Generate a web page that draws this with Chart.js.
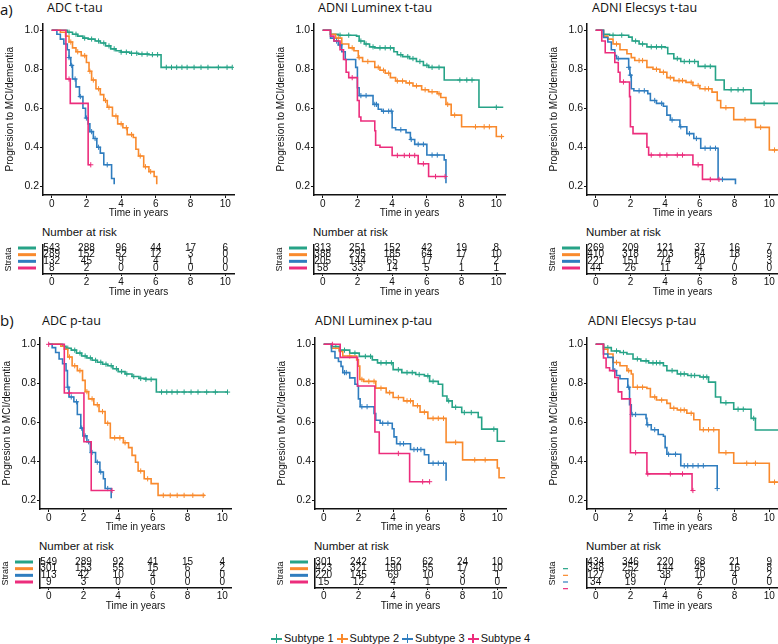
<!DOCTYPE html>
<html>
<head>
<meta charset="utf-8">
<script src="https://cdn.jsdelivr.net/npm/chart.js@4.4.1/dist/chart.umd.min.js"></script>
<style>
  html, body { margin: 0; padding: 0; background: #fff; }
  body { width: 778px; height: 644px; position: relative; overflow: hidden; font-family: "Liberation Sans", Arial, sans-serif; color: #111; }
  .box { position: absolute; }
  .tag { position: absolute; font-family: "Open Sans", sans-serif; font-size: 15px; line-height: 18px; }
  .ttl { position: absolute; font-family: "Open Sans", sans-serif; font-size: 12.5px; line-height: 15px; white-space: nowrap; }
  .nar { position: absolute; font-size: 11.5px; line-height: 14px; white-space: nowrap; }
  #legend { position: absolute; left: 271px; top: 631px; display: flex; gap: 3px; font-size: 11px; line-height: 14px; white-space: nowrap; }
  #legend .key { display: inline-block; width: 11px; height: 9px; position: relative; margin-right: 2px; vertical-align: -1px; }
  #legend .key::before { content: ""; position: absolute; left: 0; right: 0; top: 4px; height: 1.5px; background: var(--c); }
  #legend .key::after { content: ""; position: absolute; left: 4.75px; top: 0; width: 1.5px; height: 9px; background: var(--c); }
</style>
</head>
<body>
<div class="tag" style="left:0px;top:0px;">a)</div>
<div class="tag" style="left:0px;top:311px;">b)</div>
<div id="legend"></div>
<script>
const years = [0, 2, 4, 6, 8, 10];
const subtypes = ["Subtype 1", "Subtype 2", "Subtype 3", "Subtype 4"];
const colors = ["#26a387", "#f98a2d", "#2f7dbf", "#ec2d7c"];

// a) ADC t-tau  (t = event times, s = survival, c = censor times)
const adcT_t1 = [0, 0.9, 1.2, 1.5, 1.8, 2.1, 2.5, 2.8, 3.1, 3.4, 3.7, 4.0, 4.5, 5.0, 5.6, 6.3, 10.4];
const adcT_s1 = [1, 0.99, 0.98, 0.97, 0.96, 0.955, 0.945, 0.935, 0.92, 0.905, 0.895, 0.888, 0.882, 0.878, 0.875, 0.81, 0.81];
const adcT_c1 = [1.0, 1.4, 1.9, 2.3, 2.7, 3.0, 3.3, 3.6, 4.0, 4.3, 4.6, 4.9, 5.2, 5.5, 5.8, 6.1, 6.6, 6.9, 7.2, 7.5, 7.8, 8.2, 8.6, 9.0, 9.6, 10.1, 10.4];
const adcT_t2 = [0, 0.5, 0.8, 1.0, 1.2, 1.4, 1.7, 2.0, 2.15, 2.3, 2.55, 2.8, 3.0, 3.2, 3.5, 3.8, 4.1, 4.35, 4.7, 4.85, 5.0, 5.3, 5.6, 5.9, 6.05];
const adcT_s2 = [1, 0.99, 0.97, 0.94, 0.91, 0.89, 0.87, 0.835, 0.79, 0.745, 0.70, 0.67, 0.64, 0.605, 0.56, 0.52, 0.50, 0.465, 0.45, 0.39, 0.355, 0.30, 0.275, 0.25, 0.21];
const adcT_c2 = [1.1, 1.5, 1.9, 2.2, 2.4, 2.7, 3.1, 3.3, 3.7, 4.0, 4.3, 4.6, 5.1, 5.4, 5.7];
const adcT_t3 = [0, 0.3, 0.5, 0.7, 0.9, 1.0, 1.1, 1.2, 1.4, 1.6, 1.8, 1.95, 2.1, 2.2, 2.4, 2.6, 2.8, 3.0, 3.45, 3.6];
const adcT_s3 = [1, 0.98, 0.955, 0.93, 0.9, 0.86, 0.82, 0.75, 0.71, 0.66, 0.6, 0.55, 0.52, 0.48, 0.445, 0.40, 0.37, 0.31, 0.24, 0.21];
const adcT_c3 = [1.0, 1.15, 1.35, 1.65, 2.0, 2.3, 2.5, 2.7, 3.2];
const adcT_t4 = [0, 0.82, 1.07, 2.1, 2.25];
const adcT_s4 = [1, 0.75, 0.625, 0.31, 0.31];
const adcT_c4 = [1.0, 2.25];
const adcT_risk = [[543, 288, 96, 44, 17, 6], [289, 152, 52, 12, 3, 0], [132, 45, 9, 4, 1, 0], [8, 2, 0, 0, 0, 0]];

// ADNI Luminex t-tau
const lumT_t1 = [0, 0.45, 0.9, 1.95, 2.1, 2.4, 2.7, 3.0, 4.1, 4.3, 4.6, 5.0, 5.4, 5.8, 6.1, 7.0, 9.0, 10.4];
const lumT_s1 = [1, 0.98, 0.975, 0.97, 0.945, 0.93, 0.915, 0.91, 0.89, 0.875, 0.865, 0.855, 0.84, 0.82, 0.81, 0.745, 0.605, 0.605];
const lumT_c1 = [1.0, 1.5, 2.2, 2.5, 2.9, 3.3, 3.6, 3.9, 4.5, 4.9, 5.2, 5.6, 6.0, 6.3, 6.7, 7.9, 8.3, 8.6, 10.0];
const lumT_t2 = [0, 0.45, 0.75, 1.1, 1.5, 1.8, 2.05, 2.3, 3.0, 3.3, 3.6, 3.9, 4.2, 4.8, 5.2, 5.7, 6.1, 6.6, 6.8, 7.1, 7.4, 8.0, 10.0, 10.4];
const lumT_s2 = [1, 0.98, 0.96, 0.93, 0.91, 0.895, 0.86, 0.84, 0.81, 0.795, 0.78, 0.757, 0.74, 0.73, 0.715, 0.695, 0.685, 0.675, 0.655, 0.62, 0.565, 0.505, 0.455, 0.455];
const lumT_c2 = [0.9, 1.7, 2.1, 2.6, 3.2, 3.5, 3.8, 4.3, 4.6, 5.0, 5.4, 5.9, 6.3, 6.7, 7.2, 7.6, 8.8, 9.3, 9.6, 10.3];
const lumT_t3 = [0, 0.45, 0.65, 0.9, 1.1, 1.3, 1.9, 2.0, 2.1, 2.9, 3.2, 3.4, 4.0, 4.2, 4.8, 5.05, 5.3, 6.0, 7.0, 7.1];
const lumT_s3 = [1, 0.96, 0.945, 0.925, 0.89, 0.85, 0.81, 0.705, 0.665, 0.62, 0.595, 0.585, 0.5, 0.49, 0.475, 0.44, 0.415, 0.36, 0.335, 0.215];
const lumT_c3 = [0.8, 1.0, 2.2, 2.5, 3.0, 3.1, 3.5, 3.8, 3.95, 4.5, 5.1, 5.5, 5.8, 6.3, 6.6];
const lumT_t4 = [0, 0.45, 0.65, 1.0, 1.2, 1.35, 1.5, 2.0, 2.1, 2.2, 3.0, 3.05, 3.3, 4.0, 5.5, 6.1, 7.05];
const lumT_s4 = [1, 0.97, 0.945, 0.9, 0.85, 0.785, 0.757, 0.64, 0.555, 0.535, 0.485, 0.41, 0.40, 0.358, 0.315, 0.25, 0.25];
const lumT_c4 = [1.7, 4.3, 4.7, 5.0, 5.3, 5.8, 6.5, 7.05];
const lumT_risk = [[313, 251, 152, 42, 19, 8], [388, 295, 185, 64, 17, 10], [205, 144, 65, 17, 7, 2], [58, 33, 14, 5, 1, 1]];

// ADNI Elecsys t-tau
const elcT_t1 = [0, 0.45, 0.8, 1.9, 2.1, 2.5, 2.95, 4.0, 4.15, 4.5, 4.9, 5.9, 6.9, 7.4, 8.95, 10.5];
const elcT_s1 = [1, 0.98, 0.975, 0.965, 0.945, 0.93, 0.915, 0.912, 0.88, 0.855, 0.84, 0.815, 0.745, 0.695, 0.625, 0.625];
const elcT_c1 = [1.0, 1.5, 2.3, 2.7, 3.2, 3.5, 3.8, 4.7, 5.1, 5.4, 5.7, 6.3, 6.6, 7.8, 8.2, 8.5, 9.7];
const elcT_t2 = [0, 0.45, 0.7, 1.0, 1.4, 1.8, 2.05, 2.25, 2.95, 3.3, 3.7, 4.1, 4.5, 5.2, 5.6, 6.0, 6.7, 7.0, 7.2, 7.95, 9.2, 10.0, 10.5];
const elcT_s2 = [1, 0.97, 0.955, 0.93, 0.9, 0.88, 0.86, 0.845, 0.81, 0.8, 0.785, 0.757, 0.742, 0.733, 0.717, 0.70, 0.683, 0.64, 0.603, 0.542, 0.502, 0.386, 0.386];
const elcT_c2 = [1.2, 2.5, 2.7, 3.5, 3.9, 4.3, 4.8, 5.0, 5.5, 5.9, 6.3, 6.5, 7.5, 8.6, 9.5, 10.3];
const elcT_t3 = [0, 0.45, 0.7, 0.9, 1.1, 1.2, 1.9, 1.97, 2.05, 2.2, 3.0, 3.15, 3.5, 3.9, 4.1, 4.3, 4.85, 5.25, 5.65, 6.05, 7.05, 8.05];
const elcT_s3 = [1, 0.963, 0.94, 0.9, 0.87, 0.855, 0.81, 0.77, 0.70, 0.69, 0.675, 0.64, 0.625, 0.61, 0.565, 0.54, 0.505, 0.47, 0.445, 0.395, 0.235, 0.21];
const elcT_c3 = [1.3, 1.9, 2.0, 2.5, 2.8, 3.4, 3.8, 4.4, 4.9, 5.4, 5.8, 6.3, 6.6, 6.9, 7.3];
const elcT_t4 = [0, 0.35, 0.55, 1.1, 1.3, 1.4, 1.95, 2.0, 2.15, 2.95, 3.05, 5.6, 6.15, 7.1];
const elcT_s4 = [1, 0.945, 0.885, 0.835, 0.785, 0.735, 0.66, 0.505, 0.47, 0.40, 0.36, 0.31, 0.235, 0.235];
const elcT_c4 = [1.6, 3.2, 3.7, 4.1, 4.7, 5.0, 5.9, 6.6, 7.1];
const elcT_risk = [[269, 209, 121, 37, 16, 7], [410, 318, 203, 64, 18, 9], [221, 151, 74, 20, 7, 3], [44, 26, 11, 4, 0, 0]];

// b) ADC p-tau
const adcP_t1 = [0, 0.8, 1.0, 1.3, 1.6, 1.9, 2.2, 2.5, 2.8, 3.1, 3.4, 3.7, 4.0, 4.4, 4.8, 5.2, 5.6, 6.2, 10.3];
const adcP_s1 = [1, 0.99, 0.98, 0.97, 0.955, 0.94, 0.93, 0.918, 0.908, 0.898, 0.89, 0.875, 0.86, 0.848, 0.835, 0.825, 0.82, 0.755, 0.755];
const adcP_c1 = [1.1, 1.5, 1.8, 2.1, 2.4, 2.7, 3.0, 3.3, 3.6, 3.9, 4.2, 4.5, 4.9, 5.3, 5.6, 5.9, 6.5, 6.8, 7.1, 7.4, 7.8, 8.2, 8.6, 9.1, 9.6, 10.3];
const adcP_t2 = [0, 0.7, 0.9, 1.1, 1.35, 1.65, 1.95, 2.1, 2.3, 2.6, 2.9, 3.25, 3.55, 4.3, 4.6, 4.8, 5.0, 5.15, 5.5, 5.9, 6.3, 9.0];
const adcP_s2 = [1, 0.99, 0.975, 0.935, 0.89, 0.865, 0.815, 0.757, 0.72, 0.69, 0.655, 0.595, 0.52, 0.495, 0.47, 0.43, 0.395, 0.35, 0.31, 0.285, 0.225, 0.225];
const adcP_c2 = [1.2, 1.5, 1.8, 2.2, 2.5, 2.8, 3.1, 3.4, 3.8, 4.1, 4.4, 5.3, 5.7, 6.6, 7.0, 7.4, 7.8, 8.3, 8.9];
const adcP_t3 = [0, 0.2, 0.4, 0.6, 0.8, 1.0, 1.08, 1.17, 1.45, 1.65, 1.85, 1.97, 2.2, 2.4, 2.7, 2.95, 3.15, 3.25, 3.6];
const adcP_s3 = [1, 0.983, 0.958, 0.925, 0.9, 0.865, 0.78, 0.73, 0.705, 0.64, 0.57, 0.53, 0.5, 0.445, 0.395, 0.345, 0.31, 0.26, 0.21];
const adcP_c3 = [1.1, 1.3, 1.6, 1.9, 2.1, 2.3, 2.5, 2.8, 3.0, 3.4];
const adcP_t4 = [0, 0.9, 2.03, 2.45, 3.65];
const adcP_s4 = [1, 0.75, 0.5, 0.25, 0.25];
const adcP_c4 = [0, 1.2, 3.65];
const adcP_risk = [[549, 289, 92, 41, 15, 4], [301, 153, 55, 15, 6, 2], [113, 42, 10, 4, 0, 0], [9, 3, 0, 0, 0, 0]];

// ADNI Luminex p-tau
const lumP_t1 = [0, 0.45, 0.9, 1.5, 2.05, 2.8, 3.1, 4.0, 4.5, 5.3, 5.8, 6.1, 6.6, 6.85, 7.1, 7.4, 7.95, 8.9, 9.1, 10.0, 10.45];
const lumP_s1 = [1, 0.988, 0.97, 0.955, 0.938, 0.92, 0.905, 0.87, 0.855, 0.845, 0.838, 0.81, 0.795, 0.735, 0.71, 0.677, 0.65, 0.625, 0.565, 0.503, 0.503];
const lumP_c1 = [0.7, 1.2, 1.8, 2.4, 2.7, 3.3, 3.6, 3.9, 4.3, 4.8, 5.1, 5.5, 6.0, 6.3, 7.2, 7.6, 8.1, 8.5, 9.8];
const lumP_t2 = [0, 0.45, 0.9, 1.1, 1.9, 2.0, 2.08, 2.3, 3.0, 3.6, 4.0, 4.6, 5.15, 5.55, 6.0, 7.05, 8.0, 10.0, 10.1, 10.45];
const lumP_s2 = [1, 0.98, 0.963, 0.94, 0.92, 0.888, 0.82, 0.81, 0.775, 0.752, 0.727, 0.71, 0.685, 0.652, 0.62, 0.497, 0.407, 0.365, 0.315, 0.315];
const lumP_c2 = [1.5, 2.2, 2.6, 2.9, 3.3, 3.8, 4.3, 4.8, 5.0, 5.4, 5.8, 6.3, 6.6, 6.9, 7.6, 8.7, 9.3];
const lumP_t3 = [0, 0.45, 0.65, 0.85, 1.0, 1.1, 1.5, 1.8, 1.95, 2.0, 2.1, 2.9, 3.0, 3.25, 3.95, 4.05, 4.2, 5.0, 5.8, 6.05, 7.05];
const lumP_s3 = [1, 0.963, 0.93, 0.912, 0.887, 0.855, 0.828, 0.795, 0.785, 0.72, 0.68, 0.645, 0.61, 0.595, 0.567, 0.525, 0.49, 0.46, 0.433, 0.39, 0.3];
const lumP_c3 = [1.2, 1.3, 2.2, 2.5, 3.4, 3.7, 4.4, 4.6, 5.2, 5.4, 5.6, 6.3, 6.6, 6.9];
const lumP_t4 = [0, 0.95, 1.95, 2.95, 3.2, 4.95, 6.1];
const lumP_s4 = [1, 0.933, 0.786, 0.55, 0.44, 0.295, 0.295];
const lumP_c4 = [0.5, 4.3, 5.7, 6.1];
const lumP_risk = [[301, 242, 152, 62, 24, 10], [423, 321, 190, 55, 17, 10], [220, 145, 69, 10, 3, 1], [15, 12, 4, 1, 0, 0]];

// ADNI Elecsys p-tau
const elcP_t1 = [0, 0.45, 0.9, 1.4, 1.8, 2.15, 2.6, 3.05, 3.9, 4.1, 4.7, 5.3, 6.0, 6.5, 6.9, 7.2, 7.95, 8.95, 9.2, 10.55];
const elcP_s1 = [1, 0.983, 0.966, 0.958, 0.95, 0.925, 0.915, 0.905, 0.89, 0.865, 0.848, 0.84, 0.832, 0.806, 0.73, 0.70, 0.667, 0.62, 0.56, 0.56];
const elcP_c1 = [0.7, 1.2, 1.6, 2.4, 2.9, 3.3, 3.5, 3.7, 4.4, 4.9, 5.1, 5.5, 5.7, 6.2, 6.4, 7.5, 8.2, 8.5, 9.1];
const elcP_t2 = [0, 0.45, 0.7, 1.0, 1.4, 1.8, 2.05, 2.15, 2.95, 3.15, 3.5, 4.1, 4.3, 4.7, 5.25, 5.65, 6.0, 7.1, 7.95, 10.0, 10.55];
const elcP_s2 = [1, 0.975, 0.95, 0.907, 0.89, 0.865, 0.848, 0.78, 0.773, 0.73, 0.714, 0.697, 0.672, 0.663, 0.646, 0.613, 0.562, 0.444, 0.39, 0.293, 0.293];
const elcP_c2 = [1.2, 1.9, 2.4, 2.7, 3.4, 3.8, 4.5, 4.9, 5.1, 5.5, 6.2, 6.5, 6.8, 7.5, 8.7, 9.2, 10.3];
const elcP_t3 = [0, 0.45, 0.7, 1.0, 1.2, 1.4, 1.85, 1.95, 2.05, 2.9, 2.95, 3.2, 3.6, 3.9, 4.0, 4.1, 4.9, 7.0];
const elcP_s3 = [1, 0.95, 0.933, 0.865, 0.84, 0.823, 0.78, 0.69, 0.64, 0.62, 0.587, 0.562, 0.537, 0.528, 0.47, 0.436, 0.377, 0.26];
const elcP_c3 = [1.1, 1.9, 2.1, 2.3, 3.0, 3.4, 4.2, 4.6, 5.1, 5.3, 5.6, 5.9, 6.2, 7.0];
const elcP_t4 = [0, 0.45, 0.6, 0.8, 1.1, 1.3, 1.5, 2.0, 2.95, 5.55, 5.6];
const elcP_s4 = [1, 0.93, 0.88, 0.865, 0.83, 0.756, 0.72, 0.444, 0.335, 0.25, 0.25];
const elcP_c4 = [2.3, 3.0, 4.3, 5.0, 5.6];
const elcP_risk = [[434, 346, 220, 68, 21, 9], [348, 252, 144, 45, 16, 8], [127, 86, 38, 10, 4, 2], [34, 19, 7, 2, 0, 0]];

const panels = [
  { title: "ADC t-tau", row: 0, col: 0, risk: adcT_risk,
    curves: [[adcT_t1, adcT_s1, adcT_c1], [adcT_t2, adcT_s2, adcT_c2], [adcT_t3, adcT_s3, adcT_c3], [adcT_t4, adcT_s4, adcT_c4]] },
  { title: "ADNI Luminex t-tau", row: 0, col: 1, risk: lumT_risk,
    curves: [[lumT_t1, lumT_s1, lumT_c1], [lumT_t2, lumT_s2, lumT_c2], [lumT_t3, lumT_s3, lumT_c3], [lumT_t4, lumT_s4, lumT_c4]] },
  { title: "ADNI Elecsys t-tau", row: 0, col: 2, risk: elcT_risk,
    curves: [[elcT_t1, elcT_s1, elcT_c1], [elcT_t2, elcT_s2, elcT_c2], [elcT_t3, elcT_s3, elcT_c3], [elcT_t4, elcT_s4, elcT_c4]] },
  { title: "ADC p-tau", row: 1, col: 0, risk: adcP_risk,
    curves: [[adcP_t1, adcP_s1, adcP_c1], [adcP_t2, adcP_s2, adcP_c2], [adcP_t3, adcP_s3, adcP_c3], [adcP_t4, adcP_s4, adcP_c4]] },
  { title: "ADNI Luminex p-tau", row: 1, col: 1, risk: lumP_risk,
    curves: [[lumP_t1, lumP_s1, lumP_c1], [lumP_t2, lumP_s2, lumP_c2], [lumP_t3, lumP_s3, lumP_c3], [lumP_t4, lumP_s4, lumP_c4]] },
  { title: "ADNI Elecsys p-tau", row: 1, col: 2, risk: elcP_risk, smallKeys: true,
    curves: [[elcP_t1, elcP_s1, elcP_c1], [elcP_t2, elcP_s2, elcP_c2], [elcP_t3, elcP_s3, elcP_c3], [elcP_t4, elcP_s4, elcP_c4]] }
];

// layout
const colX = [[0, 271, 544], [-3, 272, 544]];
const rowY = [0, 314];
const titleX = [[47, 318, 592], [42, 315, 588]];
const ink = "#111";
const FONT = '"Liberation Sans", Arial, sans-serif';

Chart.defaults.font.family = FONT;
Chart.defaults.color = ink;

function stepAt(t, s, x) {
    let v = s[0];
    for (let i = 0; i < t.length; i++) if (t[i] <= x) v = s[i];
    return v;
}

function addBox(left, top, w, h) {
    const div = document.createElement("div");
    div.className = "box";
    div.style.left = left + "px";
    div.style.top = top + "px";
    div.style.width = w + "px";
    div.style.height = h + "px";
    const cv = document.createElement("canvas");
    div.appendChild(cv);
    document.body.appendChild(div);
    return cv;
}

function addText(cls, text, left, top) {
    const d = document.createElement("div");
    d.className = cls;
    d.textContent = text;
    d.style.left = left + "px";
    d.style.top = top + "px";
    document.body.appendChild(d);
}

const axisLine = { color: ink, width: 1.5 };
const tickGrid = { drawOnChartArea: false, tickLength: 3, color: ink, lineWidth: 1 };

// KM CURVES
function makeKM(p) {
    const left = colX[p.row][p.col], top = rowY[p.row];
    const cv = addBox(left, top + 16, 240, 204);
    const datasets = [];
    p.curves.forEach(([t, s, c], k) => {
        datasets.push({
            label: subtypes[k],
            data: t.map((x, i) => ({ x: x, y: s[i] })),
            showLine: true, stepped: "before",
            borderColor: colors[k], borderWidth: 1.6,
            pointRadius: 0, order: 3 - k
        });
        datasets.push({
            label: subtypes[k] + " censored",
            data: c.map(x => ({ x: x, y: stepAt(t, s, x) })),
            showLine: false, pointStyle: "cross", pointRadius: 2.6,
            borderColor: colors[k], pointBorderColor: colors[k], borderWidth: 1,
            order: 3 - k
        });
    });

    new Chart(cv, {
        type: "scatter",
        data: { datasets: datasets },
        options: {
            responsive: true, maintainAspectRatio: false, animation: false, devicePixelRatio: 1,
            layout: { padding: { top: 6, right: 6, left: 0, bottom: 0 } },
            plugins: { legend: { display: false }, tooltip: { enabled: false } },
            scales: {
                x: {
                    type: "linear", min: -0.5, max: 10.5,
                    afterFit: s => { s.height = 25; },
                    ticks: { stepSize: 2, includeBounds: false, padding: 0, maxRotation: 0, font: { size: 10 } },
                    grid: tickGrid, border: axisLine,
                    title: { display: true, text: "Time in years", font: { size: 10 }, padding: { top: 0, bottom: 1 } }
                },
                y: {
                    min: 0.155, max: 1.036,
                    afterFit: s => { s.width = 43; },
                    ticks: { stepSize: 0.2, includeBounds: false, padding: 1, font: { size: 10.5 }, callback: v => v.toFixed(1) },
                    grid: tickGrid, border: axisLine,
                    title: { display: true, text: "Progresion to MCI/dementia", font: { size: 10 }, padding: { top: 4, bottom: 0 } }
                }
            }
        }
    });
}

// RISK TABLE
function makeRisk(p) {
    const left = colX[p.row][p.col], top = rowY[p.row];
    addText("nar", "Number at risk", left + 42, top + 225);
    const cv = addBox(left, top + 243, 240, 55);

    const riskText = {
        id: "riskText",
        afterDraw(chart) {
            const { ctx, chartArea } = chart;
            const x = chart.scales.x, y = chart.scales.y;
            ctx.save();
            ctx.font = "10px " + FONT;
            ctx.fillStyle = ink;
            ctx.textAlign = "center";
            ctx.textBaseline = "middle";
            p.risk.forEach((row, r) => {
                row.forEach((n, j) => ctx.fillText(String(n), x.getPixelForValue(years[j]), y.getPixelForValue(r + 1)));
            });
            // strata keys
            colors.forEach((c, r) => {
                const shift = p.smallKeys ? 1 : 0;
                const yy = y.getPixelForValue(r + 1 + shift);
                ctx.strokeStyle = c;
                ctx.lineWidth = p.smallKeys ? 1.2 : 3;
                ctx.beginPath();
                ctx.moveTo(chartArea.left - (p.smallKeys ? 24 : 25), yy);
                ctx.lineTo(chartArea.left - (p.smallKeys ? 19 : 7), yy);
                ctx.stroke();
            });
            ctx.restore();
        }
    };

    new Chart(cv, {
        type: "scatter",
        data: { datasets: [] },
        options: {
            responsive: true, maintainAspectRatio: false, animation: false, devicePixelRatio: 1,
            layout: { padding: { top: 2, right: 6, left: 0, bottom: 0 } },
            plugins: { legend: { display: false }, tooltip: { enabled: false } },
            scales: {
                x: {
                    type: "linear", min: -0.5, max: 10.5,
                    afterFit: s => { s.height = 24; },
                    ticks: { stepSize: 2, includeBounds: false, padding: 0, maxRotation: 0, font: { size: 10 } },
                    grid: { drawOnChartArea: false, tickLength: 2, color: ink, lineWidth: 1 },
                    border: axisLine,
                    title: { display: true, text: "Time in years", font: { size: 10 }, padding: { top: 0, bottom: 0 } }
                },
                y: {
                    reverse: true, min: 0.55, max: 4.9,
                    afterFit: s => { s.width = 43; },
                    ticks: { display: false },
                    grid: { display: false },
                    border: axisLine,
                    title: { display: true, text: "Strata", font: { size: 9 }, padding: { top: 3, bottom: 0 } }
                }
            }
        },
        plugins: [riskText]
    });
}

// START
panels.forEach(p => {
    addText("ttl", p.title, titleX[p.row][p.col], rowY[p.row] + (p.row ? -1 : 0));
    makeKM(p);
    makeRisk(p);
});

// LEGEND
const legend = document.getElementById("legend");
subtypes.forEach((name, k) => {
    const item = document.createElement("span");
    item.innerHTML = '<span class="key" style="--c:' + colors[k] + '"></span>' + name;
    legend.appendChild(item);
});
</script>
</body>
</html>
